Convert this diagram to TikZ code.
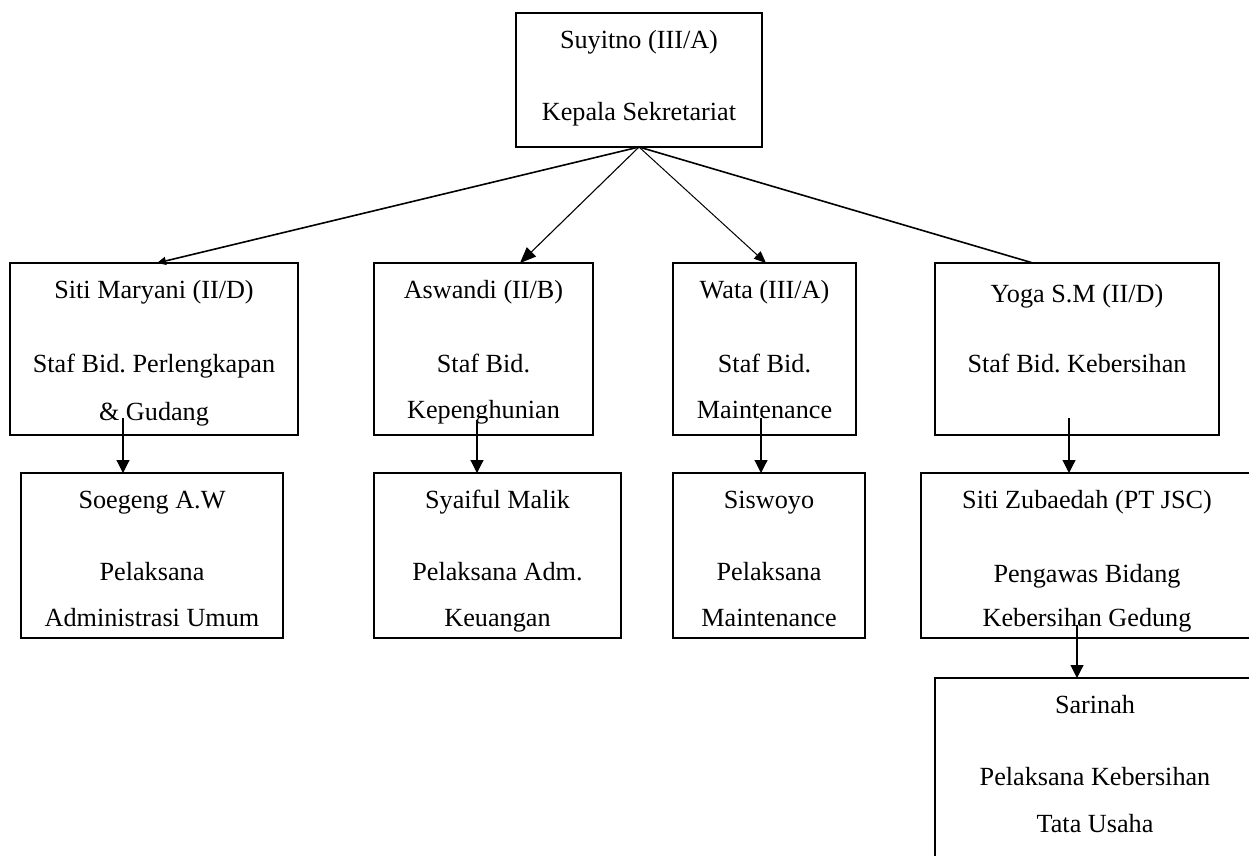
\documentclass[tikz,border=0pt]{standalone}
\usepackage{fontspec}
\setmainfont{Liberation Serif}
\usetikzlibrary{arrows.meta}
\begin{document}
\frenchspacing
\begin{tikzpicture}[x=1pt,y=-1pt,
  box/.style={draw, line width=1.5pt, anchor=north west, inner sep=0pt, outer sep=0pt},
  lbl/.style={anchor=base, inner sep=0pt, font=\fontsize{26.2}{30}\selectfont},
  conn/.style={line width=1.1pt},
  hd/.style={-{Triangle[width=13pt,length=13pt]}}]
\useasboundingbox (0,0) rectangle (1249,855);
\clip (0,0) rectangle (1249,855);
\fill[white] (0,0) rectangle (1249,855);
% boxes
\node[box, minimum width=246pt, minimum height=134pt] (top) at (516,13) {};
\node[box, minimum width=288pt, minimum height=172pt] (b1) at (10,263) {};
\node[box, minimum width=219pt, minimum height=172pt] (b2) at (374,263) {};
\node[box, minimum width=183pt, minimum height=172pt] (b3) at (673,263) {};
\node[box, minimum width=284pt, minimum height=172pt] (b4) at (935,263) {};
\node[box, minimum width=262pt, minimum height=165pt] (c1) at (21,473) {};
\node[box, minimum width=247pt, minimum height=165pt] (c2) at (374,473) {};
\node[box, minimum width=192pt, minimum height=165pt] (c3) at (673,473) {};
\node[box, minimum width=340pt, minimum height=165pt] (c4) at (921,473) {};
\node[box, minimum width=330pt, minimum height=220pt] (d) at (935,678) {};
% texts
\node[lbl] (top1) at (639,48) {Suyitno (III/A)};
\node[lbl] (top2) at (639,120) {Kepala Sekretariat};
\node[lbl] (b1a) at (154,298) {Siti Maryani (II/D)};
\node[lbl] (b1b) at (154,372) {Staf Bid. Perlengkapan};
\node[lbl] (b1c) at (154,420) {\& Gudang};
\node[lbl] (b2a) at (483.5,298) {Aswandi (II/B)};
\node[lbl] (b2b) at (483.5,372) {Staf Bid.};
\node[lbl] (b2c) at (483.5,418) {Kepenghunian};
\node[lbl] (b3a) at (764.5,298) {Wata (III/A)};
\node[lbl] (b3b) at (764.5,372) {Staf Bid.};
\node[lbl] (b3c) at (764.5,418) {Maintenance};
\node[lbl] (b4a) at (1077,302) {Yoga S.M (II/D)};
\node[lbl] (b4b) at (1077,372) {Staf Bid. Kebersihan};
\node[lbl] (c1a) at (152,508) {Soegeng A.W};
\node[lbl] (c1b) at (152,580) {Pelaksana};
\node[lbl] (c1c) at (152,626) {Administrasi Umum};
\node[lbl] (c2a) at (497.5,508) {Syaiful Malik};
\node[lbl] (c2b) at (497.5,580) {Pelaksana Adm.};
\node[lbl] (c2c) at (497.5,626) {Keuangan};
\node[lbl] (c3a) at (769,508) {Siswoyo};
\node[lbl] (c3b) at (769,580) {Pelaksana};
\node[lbl] (c3c) at (769,626) {Maintenance};
\node[lbl] (c4a) at (1087,508) {Siti Zubaedah (PT JSC)};
\node[lbl] (c4b) at (1087,582) {Pengawas Bidang};
\node[lbl] (c4c) at (1087,626) {Kebersihan Gedung};
\node[lbl] (da) at (1095,713) {Sarinah};
\node[lbl] (db) at (1095,785) {Pelaksana Kebersihan};
\node[lbl] (dc) at (1095,832) {Tata Usaha};
% top connectors
\draw[line width=1.6pt, -{Triangle[width=8pt,length=9pt]}] (top.south) -- ([xshift=3pt]b1.north);
\draw[line width=1.1pt, -{Triangle[width=13pt,length=16pt]}] (top.south) -- ([xshift=36.5pt]b2.north);
\draw[line width=1.0pt, -{Triangle[width=10pt,length=12pt]}] (top.south) -- ([xshift=1.5pt]b3.north);
\draw[line width=1.6pt] (top.south) -- ([xshift=-44pt]b4.north);
% vertical connectors
\draw[conn, hd] ([xshift=-31pt,yshift=17pt]b1.south) -- ([xshift=-29pt]c1.north);
\draw[conn, hd] ([xshift=-6.5pt,yshift=15pt]b2.south) -- ([xshift=-20.5pt]c2.north);
\draw[conn, hd] ([xshift=-3.5pt,yshift=17pt]b3.south) -- ([xshift=-8pt]c3.north);
\draw[conn, hd] ([xshift=-8pt,yshift=17pt]b4.south) -- ([xshift=-22pt]c4.north);
\draw[conn, hd] ([xshift=-14pt,yshift=13pt]c4.south) -- ([xshift=-23pt]d.north);
\end{tikzpicture}
\end{document}
